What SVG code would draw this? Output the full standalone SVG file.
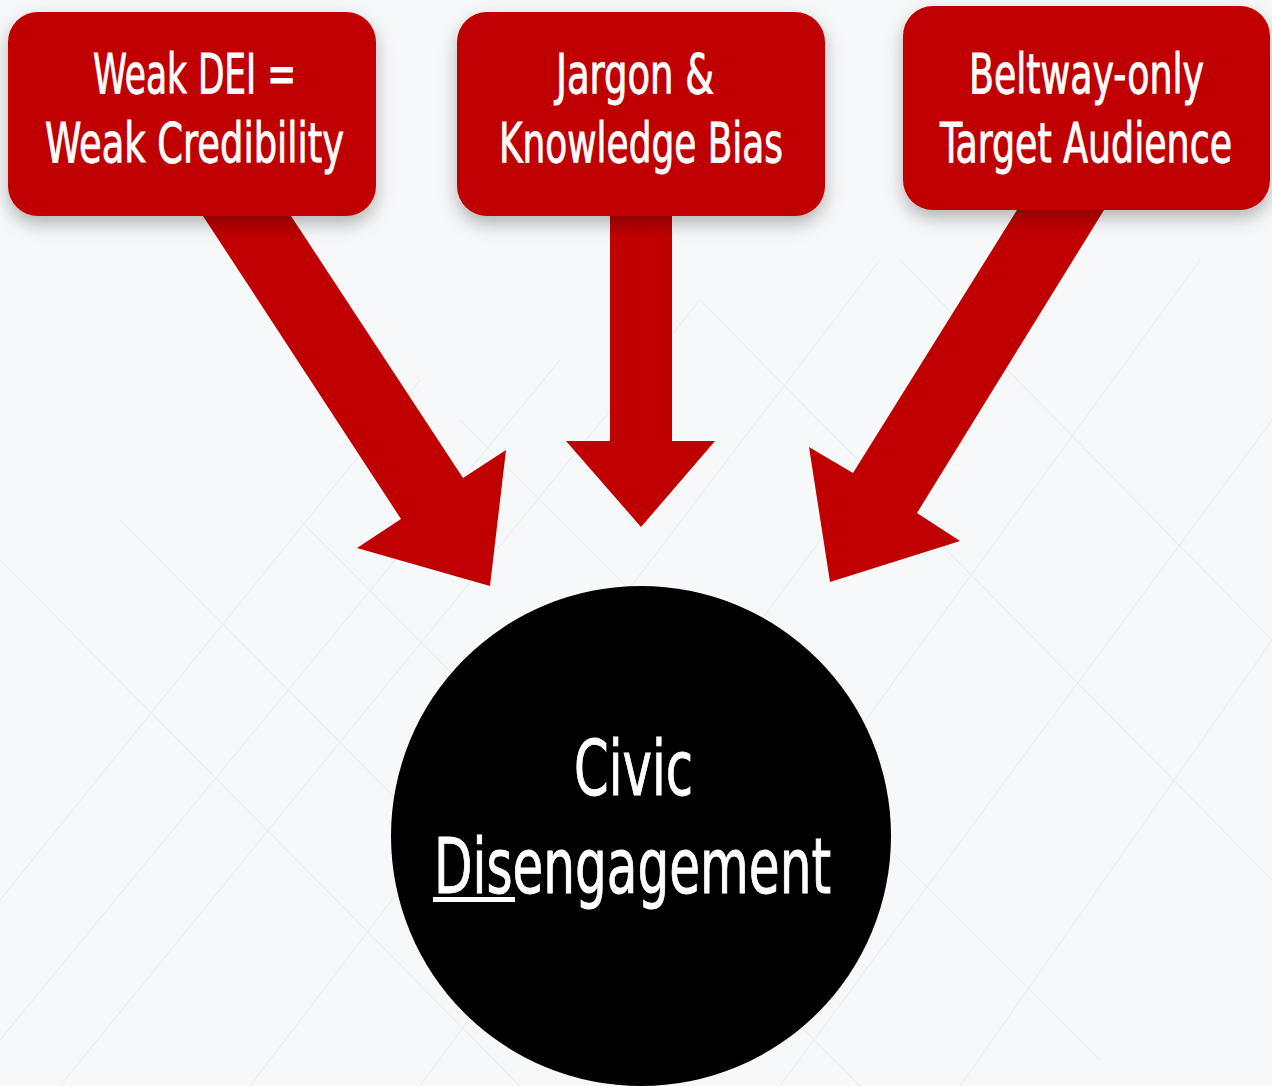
<svg xmlns="http://www.w3.org/2000/svg" width="1272" height="1086" viewBox="0 0 1272 1086">
<defs>
<style>
.box{fill:#c00000;filter:url(#sh)}
.arrow{fill:#c00000}
.lbl{fill:#ffffff;stroke:#ffffff;stroke-width:0.9;font-family:"Liberation Sans Narrow","DejaVu Sans Condensed","Liberation Sans",sans-serif;font-stretch:condensed;text-anchor:start}
.bg{stroke:#eceef0;stroke-width:1.2;fill:none}
</style>
<filter id="sh" x="-20%" y="-20%" width="140%" height="150%">
<feDropShadow dx="0" dy="8" stdDeviation="9" flood-color="#000" flood-opacity="0.28"/>
</filter>
</defs>
<rect x="0" y="0" width="1272" height="1086" fill="#f7f8f9"/>
<g id="background" class="bg">
<path d="M0 900 L420 380 M0 1040 L560 360 M60 1086 L700 300 M250 1086 L880 260 M420 1086 L1040 240 M600 1086 L1200 260 M780 1086 L1272 420 M960 1086 L1272 640"/>
<path d="M0 560 L520 1086 M120 520 L680 1086 M300 520 L860 1086 M460 420 L1100 1060 M700 300 L1272 880 M900 260 L1272 640"/>
</g>
<g id="connectors">
<polygon class="arrow" points="203,216 291,216 463,478 506,450 490,586 357,548 401,519"/>
<polygon class="arrow" points="610,216 672,216 672,441 715,441 641,527 566,441 610,441"/>
<polygon class="arrow" points="1017,210 1104,210 917,513 960,541 830,582 809,447 853,473"/>
</g>
<g id="node-weak-dei">
<rect class="box" x="8" y="12" width="368" height="204" rx="30"/>
<text class="lbl" x="93" y="93" font-size="56" textLength="203" lengthAdjust="spacingAndGlyphs">Weak DEI =</text>
<text class="lbl" x="45" y="162" font-size="56" textLength="299" lengthAdjust="spacingAndGlyphs">Weak Credibility</text>
</g>
<g id="node-jargon">
<rect class="box" x="457" y="12" width="368" height="204" rx="30"/>
<text class="lbl" x="556" y="93" font-size="56" textLength="158" lengthAdjust="spacingAndGlyphs">Jargon &amp;</text>
<text class="lbl" x="499" y="162" font-size="56" textLength="284" lengthAdjust="spacingAndGlyphs">Knowledge Bias</text>
</g>
<g id="node-beltway">
<rect class="box" x="903" y="6" width="367" height="204" rx="30"/>
<text class="lbl" x="969" y="93" font-size="56" textLength="235" lengthAdjust="spacingAndGlyphs">Beltway-only</text>
<text class="lbl" x="940" y="162" font-size="56" textLength="292" lengthAdjust="spacingAndGlyphs">Target Audience</text>
</g>
<g id="node-civic">
<circle cx="641" cy="836" r="250" fill="#000000"/>
<text class="lbl" x="574" y="795" font-size="76" textLength="119" lengthAdjust="spacingAndGlyphs">Civic</text>
<text class="lbl" x="434" y="893" font-size="76" textLength="397" lengthAdjust="spacingAndGlyphs">Disengagement</text>
<rect x="433" y="897" width="82" height="5" fill="#ffffff"/>
</g>
</svg>
